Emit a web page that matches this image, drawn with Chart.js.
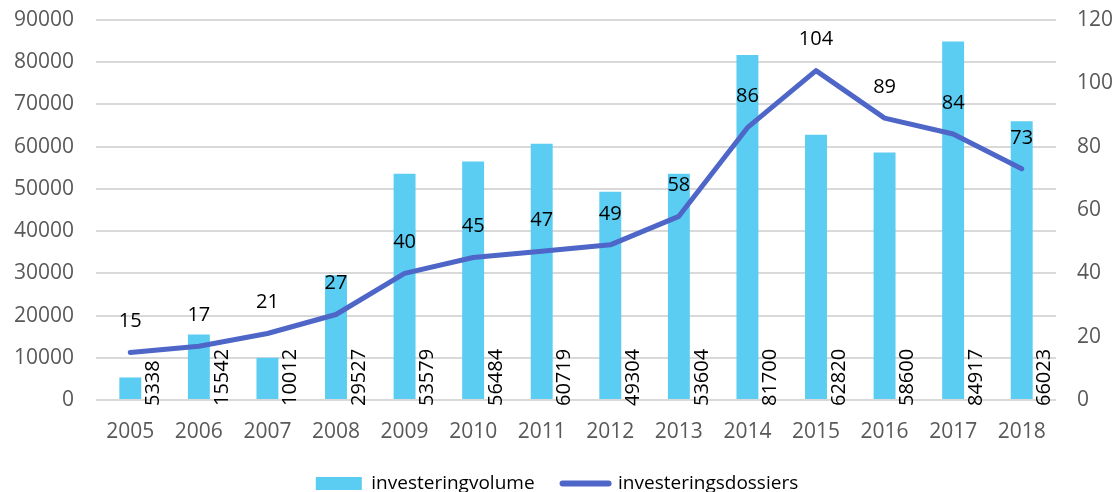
<!DOCTYPE html>
<html>
<head>
<meta charset="utf-8">
<script src="https://cdn.jsdelivr.net/npm/chart.js@4/dist/chart.umd.min.js"></script>
<style>
    html, body { margin: 0; padding: 0; background: #fff; }
    #wrap { width: 1114px; height: 492px; }
</style>
</head>
<body>
<div id="wrap"><canvas id="myChart" width="1114" height="492"></canvas></div>
<script>
const years = ['2005', '2006', '2007', '2008', '2009', '2010', '2011', '2012', '2013', '2014', '2015', '2016', '2017', '2018'];
const volume = [5338, 15542, 10012, 29527, 53579, 56484, 60719, 49304, 53604, 81700, 62820, 58600, 84917, 66023];
const dossiers = [15, 17, 21, 27, 40, 45, 47, 49, 58, 86, 104, 89, 84, 73];
const leftTicks = [0, 10000, 20000, 30000, 40000, 50000, 60000, 70000, 80000, 90000];
const rightTicks = [0, 20, 40, 60, 80, 100, 120];

const barColor = '#5BCDF2';
const lineColor = '#4E66C7';
const fontFamily = '"Open Sans", "Noto Sans", sans-serif';

// draws the value labels: rotated next to the bars, above the line points
const valueLabels = {
    id: 'valueLabels',
    afterDatasetsDraw(chart) {
        const ctx = chart.ctx;
        const yBase = chart.scales.y.getPixelForValue(0);
        ctx.save();
        ctx.fillStyle = '#000';
        ctx.font = '20px ' + fontFamily;

        chart.getDatasetMeta(0).data.forEach((bar, i) => {
            ctx.save();
            ctx.translate(bar.x + 23, yBase + 6);
            ctx.rotate(-Math.PI / 2);
            ctx.textAlign = 'left';
            ctx.textBaseline = 'middle';
            ctx.fillText(String(volume[i]), 0, 0);
            ctx.restore();
        });

        chart.getDatasetMeta(1).data.forEach((pt, i) => {
            ctx.textAlign = 'center';
            ctx.textBaseline = 'middle';
            ctx.fillText(String(dossiers[i]), pt.x, pt.y - 31);
        });
        ctx.restore();
    }
};

const noPad = (scale) => { scale.paddingTop = 0; scale.paddingBottom = 0; };

const ctx = document.getElementById('myChart').getContext('2d');
const chart = new Chart(ctx, {
    data: {
        labels: years,
        datasets: [
            {
                type: 'bar',
                label: 'investeringvolume',
                data: volume,
                backgroundColor: barColor,
                yAxisID: 'y',
                barPercentage: 0.4,
                categoryPercentage: 0.8,
                order: 2
            },
            {
                type: 'line',
                label: 'investeringsdossiers',
                data: dossiers,
                borderColor: lineColor,
                backgroundColor: lineColor,
                borderWidth: 5,
                pointRadius: 0,
                tension: 0,
                borderCapStyle: 'round',
                borderJoinStyle: 'round',
                yAxisID: 'y2',
                order: 1
            }
        ]
    },
    options: {
        responsive: false,
        animation: false,
        layout: { padding: { top: 20, left: 0, right: 0, bottom: -11 } },
        plugins: {
            tooltip: { enabled: false },
            legend: {
                position: 'bottom',
                labels: {
                    color: '#595959',
                    font: { family: fontFamily, size: 19 },
                    usePointStyle: true,
                    pointStyleWidth: 46,
                    boxHeight: 13,
                    padding: 28,
                    generateLabels: (chart) => [
                        {
                            text: 'investeringvolume',
                            fillStyle: barColor,
                            strokeStyle: barColor,
                            lineWidth: 0,
                            pointStyle: 'rect',
                            datasetIndex: 0
                        },
                        {
                            text: 'investeringsdossiers',
                            fillStyle: lineColor,
                            strokeStyle: lineColor,
                            lineWidth: 6,
                            lineCap: 'round',
                            pointStyle: 'line',
                            datasetIndex: 1
                        }
                    ]
                }
            }
        },
        scales: {
            x: {
                grid: { display: false, drawTicks: false },
                border: { display: false },
                afterFit: (scale) => { scale.height = 46; },
                ticks: {
                    color: '#595959',
                    font: { family: fontFamily, size: 21 },
                    padding: 19,
                    maxRotation: 0
                }
            },
            y: {
                position: 'left',
                min: 0,
                max: 90000,
                afterBuildTicks: (scale) => { scale.ticks = leftTicks.map(v => ({ value: v })); },
                afterFit: (scale) => { scale.width = 96; noPad(scale); },
                grid: { color: '#D9D9D9', lineWidth: 2, drawTicks: false },
                border: { display: false },
                ticks: {
                    color: '#595959',
                    font: { family: fontFamily, size: 21 },
                    padding: 22,
                    callback: (v) => String(v)
                }
            },
            y2: {
                position: 'right',
                min: 0,
                max: 120,
                afterBuildTicks: (scale) => { scale.ticks = rightTicks.map(v => ({ value: v })); },
                afterFit: (scale) => { scale.width = 58; noPad(scale); },
                grid: { display: false, drawTicks: false },
                border: { display: false },
                ticks: {
                    color: '#595959',
                    font: { family: fontFamily, size: 21 },
                    padding: 21,
                    callback: (v) => String(v)
                }
            }
        }
    },
    plugins: [valueLabels]
});
</script>
</body>
</html>
